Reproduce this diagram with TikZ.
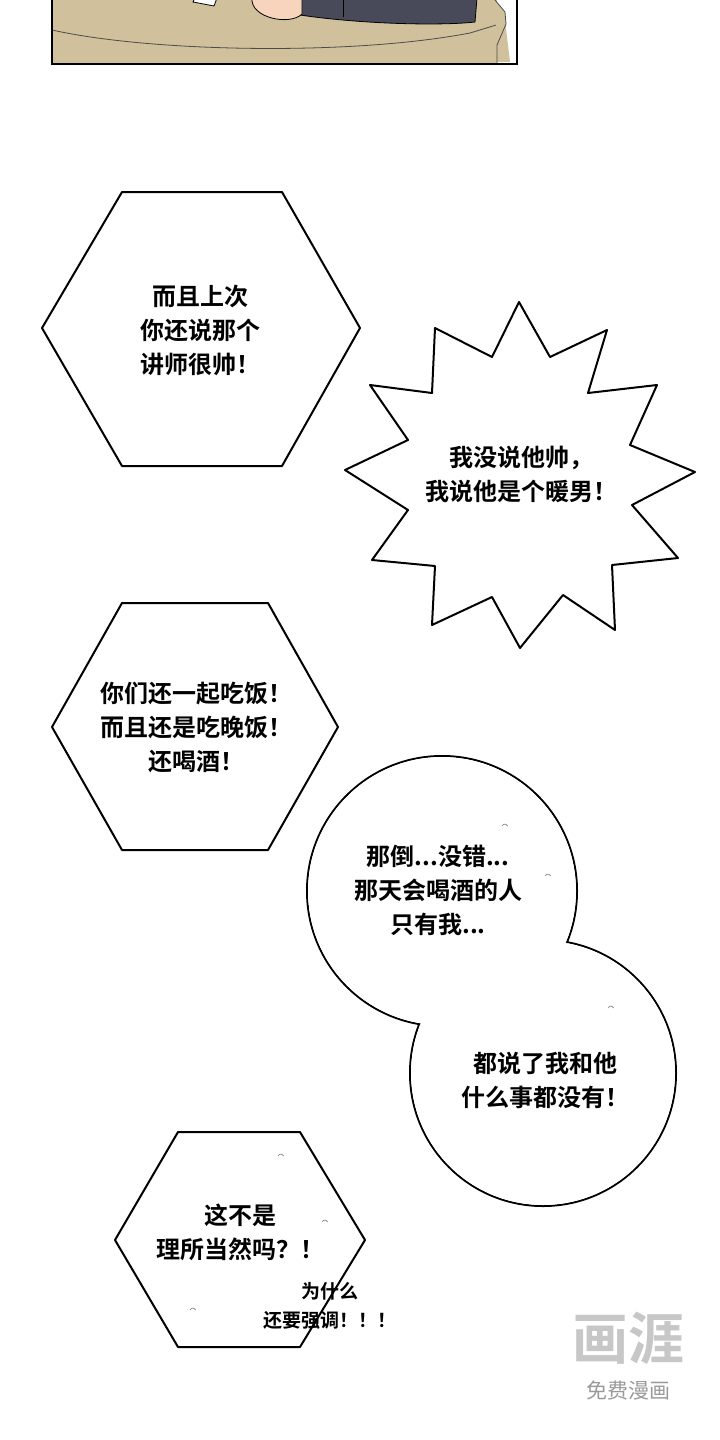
\documentclass[tikz,border=0pt]{standalone}
\usepackage{fontspec}
\newfontfamily\cjk{Noto Sans CJK SC}[BoldFont={Noto Sans CJK SC Bold}]
\definecolor{tablebeige}{RGB}{208,192,156}
\definecolor{sleeve}{RGB}{72,74,90}
\definecolor{skin}{RGB}{248,212,188}
\begin{document}
\begin{tikzpicture}[x=1pt,y=-1pt,every node/.style={font=\cjk\bfseries\fontsize{24}{34}\selectfont,align=center}]
\tikzset{bubble/.style={draw=black,line width=2pt,fill=white,line join=round},
  drop/.style={gray,line width=0.6pt}}
\useasboundingbox (0,0) rectangle (720,1440);
% top panel
\begin{scope}
\clip (52,0) rectangle (517,64);
\fill[tablebeige] (52,0) rectangle (517,64);
\fill[white] (497,0) rectangle (517,64);
\fill[tablebeige] (52,30) .. controls (150,50) and (350,55) .. (470,33) -- (505,20) -- (510,62) -- (52,64) -- cycle;
\draw[line width=0.8pt,black!70] (52,30) .. controls (150,52) and (350,56) .. (470,33) -- (506,22);
\draw[line width=0.8pt,black!70,fill=tablebeige] (495,0) -- (505,12) -- (506,24) -- (497,45) -- (497,64);
\fill[sleeve,draw=black,line width=0.8pt] (300,-2) -- (300,15) .. controls (360,24) and (440,26) .. (475,22) -- (477,-2) -- cycle;
\draw[line width=0.8pt] (343,0) -- (343,17);
\fill[skin,draw=black,line width=0.8pt] (252,-2) .. controls (250,18) and (290,26) .. (302,14) -- (302,-2) -- cycle;
\draw[line width=0.8pt,fill=white] (195,-2) -- (193,2) -- (214,6) -- (217,-2);
\end{scope}
\draw[line width=2.2pt] (52,0) -- (52,64) -- (517,64) -- (517,0);
% hexagon 1
\draw[bubble] (42,328) -- (122,192) -- (282,192) -- (360,328) -- (282,466) -- (122,466) -- cycle;
\node (hexa) at (200,330) {而且上次\\你还说那个\\讲师很帅！};
% starburst
\draw[bubble] (519,302) -- (550,357) -- (607,330) -- (588,393) -- (657,385)
  -- (630,445) -- (695,472) -- (632,505) -- (678,558) -- (612,565) -- (615,630)
  -- (563,595) -- (520,648) -- (492,597) -- (432,625) -- (435,566) -- (372,560)
  -- (408,510) -- (345,470) -- (408,440) -- (370,385) -- (432,393) -- (435,328)
  -- (492,357) -- cycle;
\node (burst) at (521,474) {我没说他帅，\\我说他是个暖男！};
% hexagon 2
\draw[bubble] (52,727) -- (122,603) -- (268,603) -- (338,727) -- (268,850) -- (122,850) -- cycle;
\node (hexb) at (196,727) {你们还一起吃饭！\\而且还是吃晚饭！\\还喝酒！};
% double round bubble
\draw[line width=2pt,fill=white] (442,891) circle (135) (543,1073) circle (133);
\fill[white] (442,891) circle (134) (543,1073) circle (132);
\node (roundA) at (438,890) {那倒...没错...\\那天会喝酒的人\\只有我...};
\node (roundB) at (545,1080) {都说了我和他\\什么事都没有！};
\draw[drop] (502,826) arc (200:340:3);
\draw[drop] (545,876) arc (200:340:3);
\draw[drop] (608,1008) arc (200:340:3);
% hexagon 3
\draw[bubble] (115,1240) -- (178,1132) -- (300,1132) -- (365,1240) -- (300,1347) -- (178,1347) -- cycle;
\node (hexc) at (240,1232) {这不是\\理所当然吗？！};
\node[font=\cjk\bfseries\fontsize{19}{29}\selectfont] (shout) at (330,1306) {为什么\\还要强调！！！};
\draw[drop] (278,1156) arc (200:340:3);
\draw[drop] (322,1222) arc (200:340:3);
\draw[drop] (190,1310) arc (200:340:3);
% watermark
\node[font=\cjk\bfseries\fontsize{56}{56}\selectfont,text=black!22] (wmark) at (628,1338) {画涯};
\node[font=\cjk\fontsize{21}{21}\selectfont,text=black!40] (wtext) at (628,1390) {免费漫画};
\end{tikzpicture}
\end{document}
